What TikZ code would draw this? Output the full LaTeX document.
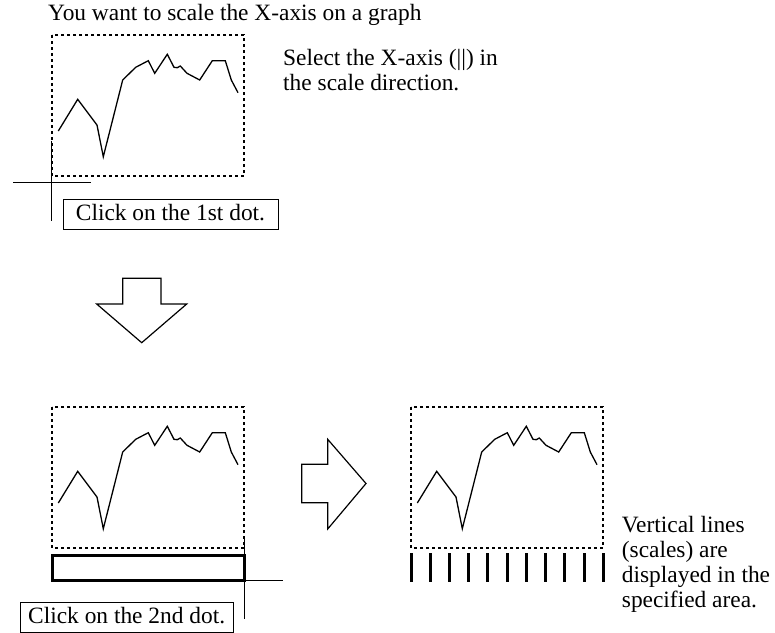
\documentclass[tikz,border=0pt]{standalone}
\usepackage{fontspec}
\setmainfont{Liberation Serif}
\usepackage{tikz}
\usetikzlibrary{positioning}

\begin{document}
\begin{tikzpicture}[x=1pt,y=-1pt,
  every node/.style={font=\fontsize{23.4}{25}\selectfont, inner sep=0pt},
  frame/.style={draw, line width=2pt, dash pattern=on 3pt off 3pt},
  curve/.style={line width=1.3pt},
  cross/.style={line width=1pt},
  clickbox/.style={draw, line width=1pt, minimum height=30pt, text height=16pt, text depth=4pt},
  bigarrow/.style={draw, line width=1.2pt, fill=white},
  scaleline/.style={line width=3pt}]
  \useasboundingbox (0,0) rectangle (775,632);

  % --- TEXTS (base = last line) ---
  \node[anchor=base west] (title) at (48,20.7) {You want to scale the X-axis on a graph};
  \node[anchor=base west, align=left] (hint) at (283,90) {Select the X-axis (||) in\\the scale direction.};
  \node[anchor=base west, align=left] (note) at (621.7,607) {Vertical lines\\(scales) are\\displayed in the\\specified area.};

  % --- GRAPHS (dotted frame + curve) ---
  \foreach \gx/\gy in {52/35, 52/407, 411/407} {
    \draw[frame] (\gx,\gy) rectangle ++(192,141);
    \draw[curve, shift={(\gx,\gy)}] (6.3,96) -- (25.7,64.3) -- (45,90) -- (51.3,121.7)
      -- (70.7,45) -- (83.7,32.3) -- (96.3,25.7) -- (102.7,38.3) -- (115.3,19.3)
      -- (122,32.3) -- (125.3,32.7) -- (128.3,31) -- (135,38.3) -- (147.7,45)
      -- (160.3,25.7) -- (173.3,25.7) -- (179.3,45) -- (186,57.7);
  }

  % --- CROSSHAIRS (1st and 2nd dot) ---
  \foreach \cx/\cy in {51.7/182.7, 244.3/580} {
    \draw[cross] (\cx-38.5,\cy) -- (\cx+39,\cy);
    \draw[cross] (\cx,\cy-42) -- (\cx,\cy+38.5);
  }

  % Selected area
  \draw[line width=3pt] (52,555) rectangle (244.5,580);

  % --- CLICK BOXES ---
  \node[clickbox, minimum width=215pt] (dot1) at (170.5,214) {Click on the 1st dot.};
  \node[clickbox, minimum width=213.3pt] (dot2) at (126.7,617.7) {Click on the 2nd dot.};

  % --- BIG ARROWS ---
  \draw[bigarrow] (122.7,278.3) -- (161,278.3) -- (161,304) -- (186.7,304)
    -- (141.7,342.7) -- (96.7,304) -- (122.7,304) -- cycle;
  \draw[bigarrow] (301.7,464.3) -- (327.7,464.3) -- (327.7,439.3) -- (366,483.5)
    -- (327.7,529) -- (327.7,502.7) -- (301.7,502.7) -- cycle;

  % Scales
  \foreach \k in {0,...,10}
    \draw[scaleline] (411+19.23*\k,553.3) -- ++(0,28.4);
\end{tikzpicture}
\end{document}
